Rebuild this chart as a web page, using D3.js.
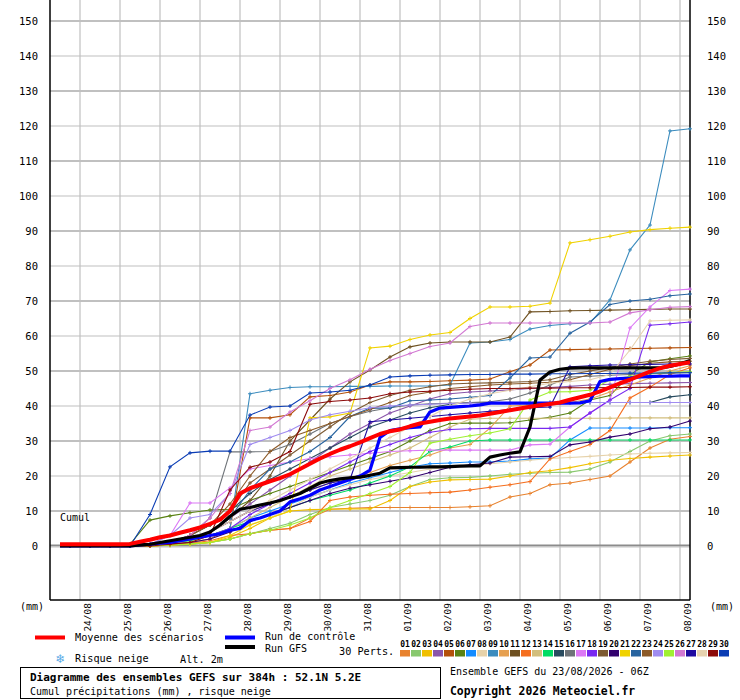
<!DOCTYPE html>
<html><head><meta charset="utf-8">
<script src="https://cdn.jsdelivr.net/npm/d3@7"></script>
<style>
body{margin:0;background:#fff}
svg{display:block}
text{font-family:"DejaVu Sans Mono","Liberation Mono",monospace}
</style>
</head><body>
<svg id="chart" width="740" height="700"></svg>
<script>
// ---- data ----
const dateLabels = ["24/08","25/08","26/08","27/08","28/08","29/08","30/08","31/08","01/09","02/09","03/09","04/09","05/09","06/09","07/09","08/09"];
const dateHours = [18,42,66,90,114,138,162,186,210,234,258,282,306,330,354,378];
const yTicks = [0,10,20,30,40,50,60,70,80,90,100,110,120,130,140,150];
const pertNames = ["01","02","03","04","05","06","07","08","09","10","11","12","13","14","15","16","17","18","19","20","21","22","23","24","25","26","27","28","29","30"];
const pertColors = ["#e8822e","#88c86e","#f0c000","#8a55aa","#b4500a","#5a8214","#148cff","#e6d2aa","#3c8cbe","#e6a050","#6e5020","#f56e1e","#d2be7d","#00dc64","#284b5f","#6e7378","#dc78f5","#7828f0","#7d5a32","#32006e","#f0d200","#2864a0","#8c5a28","#a08cf0","#a0f032","#d278d2","#1e0aa0","#e6d2af","#8c0a0a","#0a3cb4"];

// main series: every 6h from +6h to +384h
const meanSeries = [0.5,0.5,0.5,0.5,0.5,0.5,0.5,0.6,1.2,1.8,2.5,3.0,3.8,4.5,5.3,6.3,7.5,10,15,16.5,17.5,18.5,19.4,20.5,22,23.5,25,26.3,27.5,28.5,29.6,30.8,32,32.8,33.3,34.2,35,35.5,36,36.4,36.7,37,37.3,37.8,38.3,38.8,39.3,39.8,40.2,40.6,41,41.8,42.5,43.2,44.2,45.3,46.5,47.5,48.7,49.8,50.8,51.5,52,52.5];
const controlSeries = [0,0,0,0,0,0,0,0,0.3,0.5,0.8,1,1.5,2,2.5,3,3.5,4.5,5,7.3,8,9,10,12.6,13.5,14.5,16,17,18,19,20,21.7,31,33,33.5,33.8,34,38.3,39.4,39.6,39.8,40,40.3,40.8,40.8,40.8,40.8,40.8,40.8,40.8,40.8,40.8,40.9,41.5,47,47.6,47.8,48,48.3,48.4,48.5,48.5,48.6,48.6];
const gfsSeries = [0,0,0,0,0,0,0,0,0.3,0.5,1,1.5,2,2.5,3,4,6,8.5,10.5,11,11.7,12.3,13,14,15,16.5,18,18.7,19.2,19.5,19.7,20.2,20.8,22.3,22.4,22.5,22.5,22.6,22.6,22.7,22.8,22.9,22.9,25.4,26,26.5,26.9,34,47.4,49.7,50.5,50.8,50.9,50.9,50.9,50.9,50.9,50.9,50.9,50.9,50.9,51.3,52,53];

// perturbations: every 12h from +12h to +384h
const pert01 = [0,0,0,0,0,0.2,0.5,1,2,3.5,4.5,5,8,10.5,10.8,11,11,11,11,11,11.2,11.5,14,15,17.5,18,19,20,24,28,30.5,31.3];
const pert02 = [0,0,0,0,0,0.2,0.5,1,2,3.5,5,6.5,9,11,12,13,14.5,17,19,19.5,19.6,20,20.5,20.8,21,21.1,22,24,27,30,31.5,32];
const pert03 = [0,0,0,0,0,0.3,0.6,1,2.5,5,8,10,10.4,10.5,10.6,10.6,13,17,18.3,18.9,19,19.1,20,21,21.5,22.4,23.5,24.5,25,25.4,25.7,26];
const pert04 = [0,0,0,0,0.3,0.8,2,4,8,12,16,20,24,28,32,35,38,40,42,43.5,44,44.3,44.6,45,45.3,45.6,46,46.2,46.4,46.5,46.6,46.7];
const pert05 = [0,0,0,0,0,0.3,1,2,5,36.6,36.6,37.5,42.6,43,44,46,46.9,46.9,47,47.2,47.4,47.7,49.8,51.7,56,56.1,56.2,56.3,56.4,56.5,56.6,56.7];
const pert06 = [0,0,0,0.5,7.4,8.6,9.5,10.3,10.5,13,15,17,19,21,23,25,27,30,33,35,35.1,35.1,35.2,36,36.8,38,41.7,43,48.9,52.6,53.5,54.3];
const pert07 = [0,0,0,0,0.5,1,2,3,5,8,10,12,14,16,18,19.5,21,22.5,23.5,23.7,24,24,24.3,24.9,25.1,30.3,33.7,33.7,33.7,33.7,33.8,33.8];
const pert08 = [0,0,0,0,0,0.5,1,2,4,6,8,11,14,16,17.5,19,20,21,22,22.5,23,23.5,24,24.5,25,25.3,25.6,26,26.3,26.5,26.6,26.7];
const pert09 = [0,0,0,0,0.5,1,2,3,5,43.5,44.5,45.3,45.5,45.5,45.6,45.6,45.7,45.7,45.7,46,58,58.3,59,62,63,63.5,63.7,70.3,84.6,91.7,118.6,119.2];
const pert10 = [0,0,0,0,0.5,1,2,4,7,10,12,14,16,18,19.5,21,23,24.5,26,28,29,33.7,40,40.3,40.5,41,42,44,46,48,50,51.5];
const pert11 = [0,0,0,0,0.3,1,2,4,8,13,20,30,36,42,46.9,50.3,54,56.9,58,58.3,58.3,58.3,59.7,66.9,67,67.2,67.3,67.4,67.5,67.6,67.7,67.7];
const pert12 = [0,0,0,0,0,0.3,0.8,1.5,3,3.5,4.5,5,7,13,14,14.5,14.8,15,15.2,15.4,16,16.8,17.5,18.4,24.9,27,29,33,42.3,45.4,49,50.9];
const pert13 = [0,0,0,0,0.3,0.8,1.5,3,5,8,11,14,17,20,22,24,26,28,31,34,36.2,36.5,36.5,36.5,36.5,36.5,36.5,36.5,36.6,36.6,36.6,36.6];
const pert14 = [0,0,0,0,0.5,1,1.5,3,5,7,9,11,13,14.5,16,18,20,22.6,27,28.3,30,30.3,30.3,30.3,30.3,30.3,30.3,30.3,30.3,30.3,30.3,30.3];
const pert15 = [0,0,0,0,0.3,1,3,6,10,15,19,22,25,28,31,34,36,38,39.5,40.5,41,41,41,41,41,41,41,41,41,41,42.6,43.2];
const pert16 = [0,0,0,0,0.3,1,3,8,26.9,26.9,27,29,32,35,37,38.5,39.5,40.3,40.6,40.8,41,41.2,42,43.7,46,48.3,48.5,48.8,49,49.2,49.4,49.6];
const pert17 = [0,0,0,0,0.5,3,12.3,12.3,16.6,22,23,24,25,25.5,26,26.5,27,27.2,27.4,27.4,27.4,27.4,27.4,28.9,29.1,34,38,41.7,62.3,68.3,73,73.4];
const pert18 = [0,0,0,0,0.3,0.8,2,3,5,9,12,15,18,21,24,27,29,31,32.5,33.3,33.5,33.6,33.6,33.6,33.6,34,38,41.7,45,63.1,63.5,64];
const pert19 = [0,0,0,0,0.3,1,3,6,10,18,22,26,30,34,38,41,43,44.5,45.5,46.3,46.5,46.6,46.8,47,47.5,49,50,51,52,52.8,53.3,53.6];
const pert20 = [0,0,0,0,0.3,0.6,1,2,4,7,9,11,13,15,16.5,17.5,18.5,19.5,21,22.5,23.2,23.7,25.4,25.5,25.6,28.9,29.7,31.1,32,33.5,34,35.7];
const pert21 = [0,0,0,0,0,0.3,0.6,1,3,6,8,10,36.6,36.9,38,56.6,57.1,59,60.3,61,65,68.3,68.3,68.5,69.4,86.6,87.5,88.5,89.7,90.4,90.8,91.1];
const pert22 = [0,0,0,0,0.3,1,2,4,8,16,22,24,27,31,37,39.4,39.4,41.5,41.7,42,42.5,43,48,53.7,54,60.8,64,69,70,70.5,71.5,72];
const pert23 = [0,0,0,0,0.3,1,3,6,12,20,27,31,33,35,37,39,41,43,44,45,45.5,46,46.3,46.5,46.8,47.5,49,50.5,51.5,52.2,52.6,52.8];
const pert24 = [0,0,0,0,0.5,3,8,9,15,29,31,33,36,37.5,38.5,39.5,40,40.3,40.5,40.7,40.8,40.8,40.9,41,41,41,41,41,41,41,41,41];
const pert25 = [0,0,0,0,0,0.3,0.6,1,2,3.5,4.5,6,8,11,13,15,17,21,29.4,30.5,31.5,32.3,33.5,41.7,44,44.1,44.5,47.4,48.5,49.2,49.6,49.8];
const pert26 = [0,0,0,0,0.3,1,3,8,15,33,34,38.3,41.5,45,47.5,50.5,53,55,57,58,62.7,63.7,63.7,63.7,63.7,63.7,63.7,64,66.6,67.5,68.2,68.4];
const pert27 = [0,0,0,0,0.3,0.8,2,4,7,10,12,14,16,18,19,35.5,36,36.5,37,37.5,38,38.5,39,39.5,39.7,51.2,51.5,51.7,51.8,51.9,52,52];
const pert28 = [0,0,0,0,0.3,0.8,2,4,7,10,13,16,19,22,25,28,31,34,37,40,42,43.5,44.5,45.5,46.5,47,47.5,49,56,64.3,64.5,64.6];
const pert29 = [0,0,0,0,0,0.5,1,3,16,22.5,24,27,40.5,41.3,41.7,42.3,43.5,44,44.2,44.5,44.8,45,45,45.1,45.1,45.2,45.2,45.3,45.3,45.4,45.4,45.5];
const pert30 = [0,0,0,0,9,22.6,26.6,27.1,27.1,37.4,39.7,40,43.7,44,44.5,46,48.3,48.6,48.8,48.9,49,49,49.1,49.1,49.2,49.2,49.3,49.3,49.4,49.4,49.5,49.5];

const perts = [pert01,pert02,pert03,pert04,pert05,pert06,pert07,pert08,pert09,pert10,pert11,pert12,pert13,pert14,pert15,pert16,pert17,pert18,pert19,pert20,pert21,pert22,pert23,pert24,pert25,pert26,pert27,pert28,pert29,pert30];

// ---- drawing ----
const svg = d3.select("#chart");
const L = 50, R = 690, T = 0, B = 600;
const x = d3.scaleLinear().domain([0,384]).range([L,R]);
const y = d3.scaleLinear().domain([0,150]).range([546,21]);

svg.append("rect").attr("width",740).attr("height",700).attr("fill","#fff");

// grid
const grid = svg.append("g");
yTicks.filter(v=>v>0).forEach(v=>{
  const thick = (v/10)%2===1;
  grid.append("line").attr("x1",L).attr("x2",R).attr("y1",y(v)).attr("y2",y(v))
    .attr("stroke","#c0c0c0").attr("stroke-width",thick?2.2:1.2);
});
dateHours.forEach(h=>{
  grid.append("line").attr("x1",x(h)).attr("x2",x(h)).attr("y1",T).attr("y2",B)
    .attr("stroke","#c0c0c0").attr("stroke-width",1.2);
});
// zero line
grid.append("line").attr("x1",L).attr("x2",R).attr("y1",y(0)-0.5).attr("y2",y(0)-0.5).attr("stroke","#8c8c8c").attr("stroke-width",2);
grid.append("line").attr("x1",L).attr("x2",R).attr("y1",y(0)+1).attr("y2",y(0)+1).attr("stroke","#c4c4c4").attr("stroke-width",1.2);

// axes frame
svg.append("line").attr("x1",L).attr("x2",L).attr("y1",T).attr("y2",B).attr("stroke","#000").attr("stroke-width",1.5);
svg.append("line").attr("x1",R).attr("x2",R).attr("y1",T).attr("y2",B).attr("stroke","#000").attr("stroke-width",1.5);
svg.append("line").attr("x1",L).attr("x2",R).attr("y1",B).attr("y2",B).attr("stroke","#000").attr("stroke-width",1.5);

// y labels via d3 axes
const axL = svg.append("g").attr("transform",`translate(${L},0)`)
  .call(d3.axisLeft(y).tickValues(yTicks).tickSize(0).tickPadding(12).tickFormat(d3.format("d")));
const axR = svg.append("g").attr("transform",`translate(${R},0)`)
  .call(d3.axisRight(y).tickValues(yTicks).tickSize(0).tickPadding(17).tickFormat(d3.format("d")));
[axL,axR].forEach(a=>{
  a.select(".domain").remove();
  a.attr("font-family",null).attr("font-size",null);
  a.selectAll("text").style("font-family",'"DejaVu Sans Mono",monospace').style("font-size","10.5px").style("fill","#000");
});

// date labels (rotated)
const xl = svg.append("g");
dateLabels.forEach((lab,i)=>{
  xl.append("text").attr("transform",`translate(${x(dateHours[i])+10.5},603) rotate(-90)`)
    .attr("text-anchor","end").style("font-size","9.5px").style("fill","#000").text(lab);
});

// unit labels
svg.append("text").attr("x",20).attr("y",610).style("font-size","10px").style("fill","#000").text("(mm)");
svg.append("text").attr("x",710).attr("y",610).style("font-size","10px").style("fill","#000").text("(mm)");
svg.append("text").attr("x",60).attr("y",521).style("font-size","10px").style("fill","#000").text("Cumul");

// perturbation lines
const pertLine = d3.line().x((d,i)=>x(12*(i+1))).y(d=>y(d));
const pg = svg.append("g");
perts.forEach((s,k)=>{
  pg.append("path").attr("d",pertLine(s)).attr("fill","none")
    .attr("stroke",pertColors[k]).attr("stroke-width",1.1);
  let m = "";
  s.forEach((v,i)=>{ const px=x(12*(i+1)), py=y(v); m += `M${px-2},${py}h4M${px},${py-2}v4`; });
  pg.append("path").attr("d",m).attr("stroke",pertColors[k]).attr("stroke-width",1).attr("fill","none");
});

// main lines
const mainLine = d3.line().x((d,i)=>x(6*(i+1))).y(d=>y(d));
svg.append("path").attr("d",mainLine(controlSeries)).attr("fill","none").attr("stroke","#0000ff").attr("stroke-width",3.2).attr("stroke-linejoin","round");
svg.append("path").attr("d",mainLine(gfsSeries)).attr("fill","none").attr("stroke","#000").attr("stroke-width",3.2).attr("stroke-linejoin","round");
svg.append("path").attr("d",mainLine(meanSeries)).attr("fill","none").attr("stroke","#ff0000").attr("stroke-width",4).attr("stroke-linejoin","round");

// legend
const lg = svg.append("g");
lg.append("line").attr("x1",35).attr("x2",65).attr("y1",637.5).attr("y2",637.5).attr("stroke","#ff0000").attr("stroke-width",4);
lg.append("text").attr("x",75).attr("y",641).style("font-size","10.2px").style("fill","#000").text("Moyenne des scénarios");
lg.append("line").attr("x1",225).attr("x2",255).attr("y1",637.5).attr("y2",637.5).attr("stroke","#0000ff").attr("stroke-width",4);
lg.append("text").attr("x",265).attr("y",640).style("font-size","10px").style("fill","#000").text("Run de contrôle");
lg.append("line").attr("x1",225).attr("x2",255).attr("y1",647).attr("y2",647).attr("stroke","#000").attr("stroke-width",4);
lg.append("text").attr("x",265).attr("y",652).style("font-size","10px").style("fill","#000").text("Run GFS");
lg.append("text").attr("x",60.5).attr("y",662.5).attr("text-anchor","middle").style("font-family","DejaVu Sans").style("font-size","12px").style("fill","#5aaae6").text("\u2744");
lg.append("text").attr("x",75).attr("y",662).style("font-size","10.2px").style("fill","#000").text("Risque neige");
lg.append("text").attr("x",180).attr("y",663).style("font-size","10.2px").style("fill","#000").text("Alt. 2m");
lg.append("text").attr("x",339).attr("y",655).style("font-size","10.2px").style("fill","#000").text("30 Perts.");

pertNames.forEach((n,k)=>{
  const sx = 400 + k*11;
  lg.append("rect").attr("x",sx).attr("y",650).attr("width",10).attr("height",6.5).attr("fill",pertColors[k]);
  lg.append("text").attr("x",sx+5).attr("y",647).attr("text-anchor","middle")
    .style("font-size","8px").style("font-weight","bold").style("fill","#000").text(n);
});

// title box
svg.append("rect").attr("x",20.5).attr("y",667.5).attr("width",420).attr("height",31).attr("fill","none").attr("stroke","#000").attr("stroke-width",1);
svg.append("text").attr("x",30).attr("y",681).style("font-size","11px").style("font-weight","bold").style("fill","#000").text("Diagramme des ensembles GEFS sur 384h : 52.1N 5.2E");
svg.append("text").attr("x",30).attr("y",695).style("font-size","10px").style("fill","#000").text("Cumul précipitations (mm) , risque neige");
svg.append("text").attr("x",450).attr("y",675).style("font-size","10px").style("fill","#000").text("Ensemble GEFS du 23/08/2026 - 06Z");
svg.append("text").attr("x",450).attr("y",695).style("font-size","11.4px").style("font-weight","bold").style("fill","#000").text("Copyright 2026 Meteociel.fr");
</script>
</body></html>
